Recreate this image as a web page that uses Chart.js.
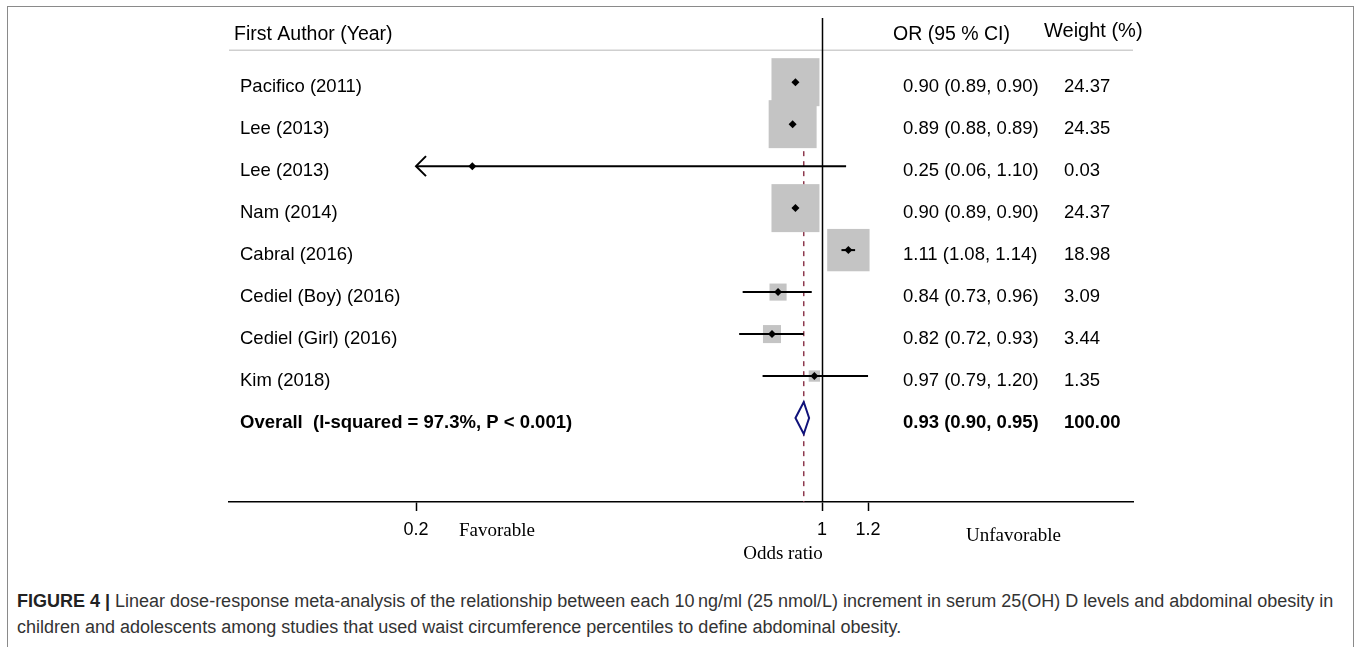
<!DOCTYPE html>
<html>
<head>
<meta charset="utf-8">
<script src="https://cdn.jsdelivr.net/npm/chart.js@4.4.1/dist/chart.umd.min.js"></script>
<style>
  body { margin: 0; width: 1360px; height: 647px; position: relative; background: #fff; overflow: hidden; }
  #frame { position: absolute; left: 7px; top: 6px; width: 1345px; height: 700px; border: 1.5px solid #8a8a8a; border-bottom: none; }
  #plot { position: absolute; left: 0; top: 0; }
  #caption { position: absolute; left: 17px; top: 588px; font: 18px "Liberation Sans", Arial, sans-serif; line-height: 26px; color: #333; white-space: nowrap; }
  #caption b { color: #222; }
</style>
</head>
<body>
<div id="frame"></div>
<canvas id="plot" width="1360" height="560"></canvas>
<div id="caption"><b>FIGURE 4 |</b> Linear dose-response meta-analysis of the relationship between each 10&#8201;ng/ml (25 nmol/L) increment in serum 25(OH) D levels and abdominal obesity in<br>children and adolescents among studies that used waist circumference percentiles to define abdominal obesity.</div>
<script>
// study rows
const studies = ["Pacifico (2011)", "Lee (2013)", "Lee (2013)", "Nam (2014)", "Cabral (2016)",
  "Cediel (Boy) (2016)", "Cediel (Girl) (2016)", "Kim (2018)"];
const oddsRatios = [0.90, 0.89, 0.25, 0.90, 1.11, 0.84, 0.82, 0.97];
const ciLower = [0.89, 0.88, 0.06, 0.89, 1.08, 0.73, 0.72, 0.79];
const ciUpper = [0.90, 0.89, 1.10, 0.90, 1.14, 0.96, 0.93, 1.20];
const weights = [24.37, 24.35, 0.03, 24.37, 18.98, 3.09, 3.44, 1.35];

// pooled estimate
const overallLabel = "Overall  (I-squared = 97.3%, P < 0.001)";
const overallOR = [0.93, 0.90, 0.95]; // estimate, lower, upper
const overallWeight = 100.00;

const xTicks = [0.2, 1, 1.2];

const sans = '"Liberation Sans", Arial, sans-serif';
const serif = '"Liberation Serif", "Times New Roman", serif';

const forestPlugin = {
  id: "forest",
  beforeDatasetsDraw(chart) {
    const { ctx, chartArea, scales: { x, y } } = chart;
    ctx.save();

    // header rule
    ctx.strokeStyle = "#cfcfcf";
    ctx.lineWidth = 1.5;
    ctx.beginPath();
    ctx.moveTo(chartArea.left, y.getPixelForValue(-0.76));
    ctx.lineTo(chartArea.right, y.getPixelForValue(-0.76));
    ctx.stroke();

    // no effect line
    const x1 = Math.round(x.getPixelForValue(1)) + 0.5;
    ctx.strokeStyle = "#000";
    ctx.lineWidth = 1.5;
    ctx.beginPath();
    ctx.moveTo(x1, chartArea.top + 3);
    ctx.lineTo(x1, chartArea.bottom);
    ctx.stroke();

    // pooled estimate line
    const xo = x.getPixelForValue(overallOR[0]);
    ctx.strokeStyle = "#8e3a4e";
    ctx.setLineDash([5, 5]);
    ctx.beginPath();
    ctx.moveTo(xo, y.getPixelForValue(-0.5));
    ctx.lineTo(xo, chartArea.bottom);
    ctx.stroke();
    ctx.setLineDash([]);

    // weight boxes
    ctx.fillStyle = "#c4c4c4";
    weights.forEach((w, i) => {
      const s = 9.72 * Math.sqrt(w);
      const cx = x.getPixelForValue(oddsRatios[i]);
      const cy = y.getPixelForValue(i);
      ctx.fillRect(cx - s / 2, cy - s / 2, s, s);
    });

    // confidence intervals
    const clip = xTicks[0];
    ctx.strokeStyle = "#000";
    ctx.lineWidth = 2;
    studies.forEach((s, i) => {
      const cy = y.getPixelForValue(i);
      const lo = Math.max(ciLower[i], clip);
      const xl = x.getPixelForValue(lo);
      const xr = x.getPixelForValue(ciUpper[i]);
      ctx.beginPath();
      ctx.moveTo(xl, cy);
      ctx.lineTo(xr, cy);
      ctx.stroke();
      if (ciLower[i] < clip) {
        ctx.beginPath();
        ctx.moveTo(xl + 10, cy - 10);
        ctx.lineTo(xl, cy);
        ctx.lineTo(xl + 10, cy + 10);
        ctx.stroke();
      }
    });

    // pooled diamond
    const dy = y.getPixelForValue(studies.length);
    ctx.strokeStyle = "#10127a";
    ctx.fillStyle = "#fff";
    ctx.lineWidth = 2;
    ctx.beginPath();
    ctx.moveTo(x.getPixelForValue(overallOR[1]), dy);
    ctx.lineTo(xo, dy - 16);
    ctx.lineTo(x.getPixelForValue(overallOR[2]), dy);
    ctx.lineTo(xo, dy + 16);
    ctx.closePath();
    ctx.fill();
    ctx.stroke();
    ctx.restore();
  },
  afterDraw(chart) {
    const { ctx, chartArea, scales: { x, y } } = chart;
    ctx.save();
    ctx.fillStyle = "#000";
    ctx.textBaseline = "middle";
    ctx.textAlign = "left";

    const hy = y.getPixelForValue(-1.14);
    ctx.font = "19.5px " + sans;
    ctx.fillText("First Author (Year)", 234, hy);
    ctx.fillText("OR (95 % CI)", 893, hy);
    ctx.font = "20px " + sans;
    ctx.fillText("Weight (%)", 1044, hy - 3);

    ctx.font = "18.5px " + sans;
    studies.forEach((s, i) => {
      const ty = y.getPixelForValue(i) + 5;
      ctx.fillText(s, 240, ty);
      ctx.fillText(`${oddsRatios[i].toFixed(2)} (${ciLower[i].toFixed(2)}, ${ciUpper[i].toFixed(2)})`, 903, ty);
      ctx.fillText(weights[i].toFixed(2), 1064, ty);
    });

    const oy = y.getPixelForValue(studies.length) + 5;
    ctx.font = "bold 18.5px " + sans;
    ctx.fillText(overallLabel, 240, oy);
    ctx.fillText(`${overallOR[0].toFixed(2)} (${overallOR[1].toFixed(2)}, ${overallOR[2].toFixed(2)})`, 903, oy);
    ctx.fillText(overallWeight.toFixed(2), 1064, oy);

    ctx.font = "19px " + serif;
    ctx.fillText("Favorable", 459, chartArea.bottom + 29);
    ctx.fillText("Unfavorable", 966, chartArea.bottom + 34);
    ctx.textAlign = "center";
    ctx.fillText("Odds ratio", 783, chartArea.bottom + 52);
    ctx.restore();
  }
};

new Chart(document.getElementById("plot"), {
  type: "scatter",
  data: {
    datasets: [{
      data: oddsRatios.map((v, i) => ({ x: v, y: i })),
      pointStyle: "rectRot",
      pointRadius: 4,
      backgroundColor: "#000",
      borderColor: "#000",
      borderWidth: 0
    }]
  },
  options: {
    responsive: false,
    animation: false,
    devicePixelRatio: 1,
    layout: { padding: { left: 229, right: 227, top: 15, bottom: 0 } },
    plugins: { legend: { display: false }, tooltip: { enabled: false } },
    scales: {
      x: {
        type: "logarithmic",
        min: 0.0953,
        max: 3.43,
        afterBuildTicks: (scale) => { scale.ticks = xTicks.map(v => ({ value: v })); },
        afterFit: (scale) => { scale.height = 58; },
        border: { display: true, color: "#000", width: 1.5 },
        grid: { drawOnChartArea: false, drawTicks: true, tickLength: 9, tickColor: "#000", tickWidth: 1.5 },
        ticks: {
          callback: (v) => String(v),
          autoSkip: false,
          maxRotation: 0,
          padding: 8,
          color: "#000",
          font: { family: sans, size: 18 }
        }
      },
      y: { display: false, reverse: true, min: -1.6, max: 10 }
    }
  },
  plugins: [forestPlugin]
});
</script>
</body>
</html>
